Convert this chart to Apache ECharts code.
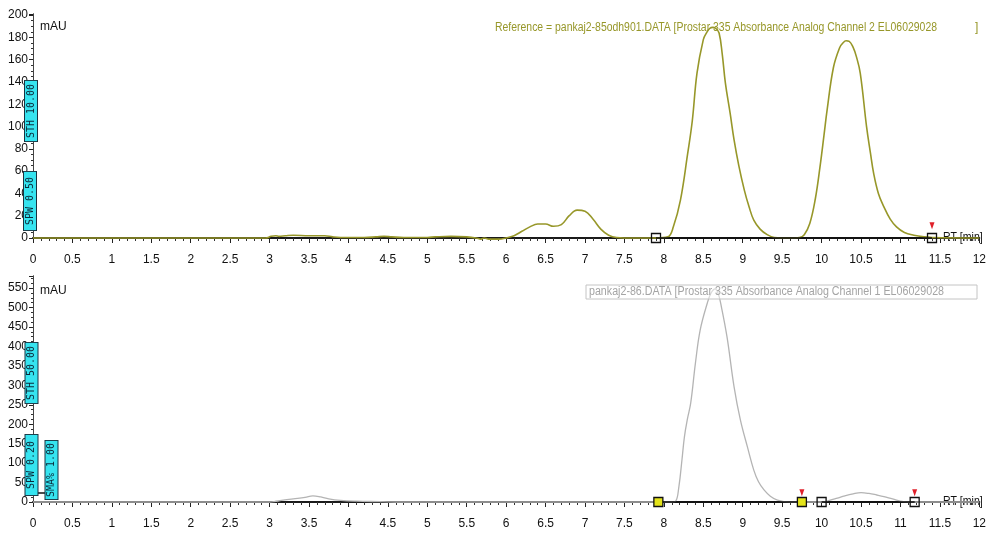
<!DOCTYPE html>
<html>
<head>
<meta charset="utf-8">
<script src="https://cdn.jsdelivr.net/npm/echarts@6/dist/echarts.min.js"></script>
<style>
  html, body { margin: 0; padding: 0; background: #fff; }
  #chart { width: 989px; height: 533px; }
</style>
</head>
<body>
<div id="chart"></div>
<script>
// Channel 2 (reference run): retention time [min] and absorbance [mAU]
const ch2Time = [0, 1.0, 2.0, 2.95, 3.02, 3.08, 3.12, 3.2, 3.3, 3.5, 3.7, 3.8, 3.9, 4.2, 4.35, 4.45, 4.55, 4.7, 5.0, 5.1, 5.3, 5.5, 5.62, 5.68, 5.72, 5.78, 5.9, 6.0, 6.1, 6.2, 6.3, 6.4, 6.5, 6.6, 6.7, 6.8, 6.9, 7.0, 7.1, 7.2, 7.3, 7.4, 7.6, 7.9, 8.05, 8.12, 8.21, 8.3, 8.36, 8.42, 8.5, 8.54, 8.58, 8.62, 8.66, 8.7, 8.74, 8.78, 8.84, 8.89, 8.95, 9.02, 9.08, 9.14, 9.22, 9.31, 9.4, 9.6, 9.72, 9.78, 9.85, 9.92, 9.98, 10.03, 10.07, 10.15, 10.23, 10.27, 10.31, 10.35, 10.4, 10.44, 10.49, 10.57, 10.62, 10.66, 10.72, 10.79, 10.87, 10.95, 11.05, 11.17, 11.3, 11.4, 12];
const ch2Abs  = [0, 0, 0, 0, 1.5, 2, 1.5, 2, 2.5, 2, 2, 1, 0.5, 0.5, 1, 1.5, 1, 0.5, 0.5, 1, 1.5, 1, 0, -1, 0, -1, -1, 0, 2, 6, 10, 12.5, 12.5, 10.5, 12, 20, 25, 24, 17, 8, 2.5, 0.5, 0, 0, 1, 10, 34, 75, 105, 148, 178, 184, 188, 189, 188, 184, 165, 139, 112, 88, 65, 43, 28, 16, 8, 3, 0.5, 0, 0.5, 3, 13, 35, 64, 92, 115, 153, 171, 175, 177, 176.5, 171, 163, 148, 100, 76, 58, 40, 28, 17, 10, 5, 2.5, 1, 0.5, 0];

// Channel 1 (sample run)
const ch1Time = [0, 1.0, 2.0, 3.0, 3.06, 3.15, 3.3, 3.45, 3.55, 3.65, 3.75, 3.9, 4.1, 4.4, 4.67, 6.0, 8.1, 8.15, 8.19, 8.23, 8.26, 8.3, 8.34, 8.4, 8.46, 8.55, 8.6, 8.65, 8.69, 8.72, 8.8, 8.89, 8.97, 9.06, 9.14, 9.2, 9.27, 9.35, 9.44, 9.6, 10.0, 10.1, 10.2, 10.28, 10.4, 10.5, 10.6, 10.7, 10.79, 10.9, 11.04, 11.2, 12];
const ch1Abs  = [0, 0, 0, 0, 1, 4, 8, 12, 16, 13, 8, 4, 2, 1, 0, 0, 0, 2, 39, 110, 167, 215, 254, 357, 442, 511, 538, 548, 535, 511, 425, 296, 211, 141, 82, 52, 31, 15, 5, 0, 0, 4, 10, 15, 21, 24, 22, 18, 14, 8, 1, 0, 0];

// Integration baselines [start, end] in minutes
const ch2Baselines = [[7.9, 11.4]];
const ch1Baselines = [[7.93, 9.75], [10.0, 11.18]];
// Valley marker on channel 2
const ch2Valleys = [9.55];

// Axis ranges [min, max, step]
const timeRange = [0, 12, 0.5];
const ch2Range = [0, 201, 20];
const ch1Range = [0, 581, 50];

const titleCh2 = 'Reference = pankaj2-85odh901.DATA [Prostar 335 Absorbance Analog Channel 2 EL06029028';
const titleCh1 = 'pankaj2-86.DATA [Prostar 335 Absorbance Analog Channel 1 EL06029028';

const FONT = "'Liberation Sans', Arial, sans-serif";
const OLIVE = '#979729';
const GREY = '#b4b4b4';

function pairs(t, v) { return t.map((x, i) => [x, v[i]]); }

// Horizontal squeeze so a header line fits its slot, like a condensed face
const measureCtx = document.createElement('canvas').getContext('2d');
function squeeze(text, font, width) {
  measureCtx.font = font;
  return width / measureCtx.measureText(text).width;
}

function timeAxis(g) {
  return {
    type: 'value', gridIndex: g, min: timeRange[0], max: timeRange[1], interval: timeRange[2],
    offset: 9,
    axisLine: { show: true, lineStyle: { color: '#222', width: 1 } },
    axisTick: { show: true, length: 5, lineStyle: { color: '#222' } },
    minorTick: { show: true, splitNumber: 5, length: 3, lineStyle: { color: '#333' } },
    axisLabel: { color: '#111', fontSize: 12, fontFamily: FONT, margin: 7, showMinLabel: true, showMaxLabel: true },
    splitLine: { show: false }, minorSplitLine: { show: false }
  };
}
function topFrame(g) {
  return {
    type: 'value', gridIndex: g, position: 'top', min: timeRange[0], max: timeRange[1],
    axisLine: { show: true, lineStyle: { color: '#1a1a1a', width: 2 } },
    axisTick: { show: false }, axisLabel: { show: false }, splitLine: { show: false }
  };
}
function absAxis(g, r) {
  return {
    type: 'value', gridIndex: g, min: r[0], max: r[1], interval: r[2],
    axisLine: { show: true, lineStyle: { color: '#222', width: 1 } },
    axisTick: { show: true, length: 4, lineStyle: { color: '#222' } },
    minorTick: { show: true, splitNumber: 4, length: 2, lineStyle: { color: '#333' } },
    axisLabel: { color: '#111', fontSize: 12, fontFamily: FONT, margin: 5, showMaxLabel: false },
    splitLine: { show: false }, minorSplitLine: { show: false }
  };
}
function rightFrame(g, r) {
  return {
    type: 'value', gridIndex: g, position: 'right', min: r[0], max: r[1],
    axisLine: { show: true, lineStyle: { color: '#444', width: 1 } },
    axisTick: { show: false }, axisLabel: { show: false }, splitLine: { show: false }
  };
}

function baselineLines(list) {
  return list.map(b => [
    { coord: [b[0], 0] },
    { coord: [b[1], 0] }
  ]);
}
function square(x, fill) {
  return { coord: [x, 0], symbol: 'rect', symbolSize: 9,
    itemStyle: { color: fill, borderColor: '#111', borderWidth: 1.3 } };
}
function arrow(x, y, color, down, size) {
  return { coord: [x, y], symbol: 'triangle', symbolSize: size || [5, 7], symbolRotate: down ? 180 : 0,
    itemStyle: { color: color, borderWidth: 0 } };
}

// Peak-event markers
const ch2Marks = [
  { coord: [0, -4], symbol: 'rect', symbolSize: [3, 10], itemStyle: { color: '#1b2a8c' } },
  square(ch2Baselines[0][0], 'rgba(255,255,255,0)'),
  square(ch2Baselines[0][1], 'rgba(255,255,255,0)'),
  arrow(ch2Baselines[0][0], -7, '#3cb34a', false),
  arrow(ch2Baselines[0][1], 11, '#e0202a', true),
  ...ch2Valleys.map(v => arrow(v, -2, '#2233cc', false, [5, 9]))
];
const ch1Marks = [
  { coord: [0, -11.5], symbol: 'rect', symbolSize: [3, 9], itemStyle: { color: '#1b2a8c' } },
  square(ch1Baselines[0][0], '#e4e41a'),
  square(ch1Baselines[0][1], '#e4e41a'),
  square(ch1Baselines[1][0], 'rgba(255,255,255,0)'),
  square(ch1Baselines[1][1], 'rgba(255,255,255,0)'),
  arrow(ch1Baselines[0][0], -20, '#3cb34a', false),
  arrow(ch1Baselines[1][0], -20, '#3cb34a', false),
  arrow(ch1Baselines[0][1], 24, '#e0202a', true),
  arrow(ch1Baselines[1][1], 24, '#e0202a', true)
];

function flagBox(x, y, text, w) {
  return {
    type: 'text', x: x, y: y, rotation: Math.PI / 2, z: 50,
    style: {
      text: text, font: "10px 'DejaVu Sans Mono', monospace", fill: '#0b2a3a',
      align: 'center', verticalAlign: 'middle',
      backgroundColor: '#36e4f0', borderColor: '#1a3340', borderWidth: 1,
      padding: [1, w || 3]
    }
  };
}

const headerFont = '12px ' + FONT;

const chart = echarts.init(document.getElementById('chart'), null, { renderer: 'canvas' });
chart.setOption({
  animation: false,
  backgroundColor: '#fff',
  grid: [
    { left: 33, top: 14, width: 950, height: 224 },
    { left: 33, top: 276, width: 950, height: 226 }
  ],
  xAxis: [timeAxis(0), timeAxis(1), topFrame(0), topFrame(1)],
  yAxis: [absAxis(0, ch2Range), absAxis(1, ch1Range), rightFrame(0, ch2Range), rightFrame(1, ch1Range)],
  series: [
    {
      name: 'Channel 2', type: 'line', xAxisIndex: 0, yAxisIndex: 0,
      data: pairs(ch2Time, ch2Abs), symbol: 'none', smooth: 0.4, clip: false,
      lineStyle: { color: OLIVE, width: 1.6 },
      markLine: { silent: true, symbol: 'none', label: { show: false },
        lineStyle: { color: '#111', width: 1.5, type: 'solid' }, data: baselineLines(ch2Baselines) },
      markPoint: { silent: true, label: { show: false }, data: ch2Marks }
    },
    {
      name: 'Channel 1', type: 'line', xAxisIndex: 1, yAxisIndex: 1,
      data: pairs(ch1Time, ch1Abs), symbol: 'none', smooth: 0.4, clip: false,
      lineStyle: { color: GREY, width: 1.3 },
      markLine: { silent: true, symbol: 'none', label: { show: false },
        lineStyle: { color: '#111', width: 1.5, type: 'solid' },
        data: baselineLines(ch1Baselines).concat([[
          { coord: [0, 23] }, { coord: [0.22, 23], symbol: 'circle', symbolSize: 4 }
        ]]) },
      markPoint: { silent: true, label: { show: false }, data: ch1Marks }
    }
  ],
  graphic: [
    { type: 'text', x: 40, y: 27, style: { text: 'mAU', font: headerFont, fill: '#111', verticalAlign: 'middle' } },
    { type: 'text', x: 40, y: 291, style: { text: 'mAU', font: headerFont, fill: '#111', verticalAlign: 'middle' } },
    { type: 'text', x: 943, y: 238, scaleX: 0.88, style: { text: 'RT [min]', font: headerFont, fill: '#111', verticalAlign: 'middle' } },
    { type: 'text', x: 943, y: 502, scaleX: 0.88, style: { text: 'RT [min]', font: headerFont, fill: '#111', verticalAlign: 'middle' } },
    { type: 'text', x: 495, y: 28, scaleX: squeeze(titleCh2, headerFont, 442), z: 40,
      style: { text: titleCh2, font: headerFont, fill: OLIVE, verticalAlign: 'middle' } },
    { type: 'text', x: 975, y: 28, style: { text: ']', font: headerFont, fill: OLIVE, verticalAlign: 'middle' } },
    { type: 'rect', z: 39, shape: { x: 586, y: 285, width: 391, height: 14 }, style: { fill: 'rgba(255,255,255,0.5)', stroke: '#c4c4c4', lineWidth: 1 } },
    { type: 'text', x: 589, y: 292, scaleX: squeeze(titleCh1, headerFont, 355), z: 40,
      style: { text: titleCh1, font: headerFont, fill: '#a4a4a4', verticalAlign: 'middle' } },
    flagBox(31, 111, 'STH 10.00', 3),
    flagBox(30, 201, 'SPW 0.50', 5),
    flagBox(31.5, 373, 'STH 50.00', 3),
    flagBox(31.5, 465, 'SPW 0.20', 6),
    flagBox(51.5, 470, 'SMA% 1.00', 2)
  ]
});
</script>
</body>
</html>
